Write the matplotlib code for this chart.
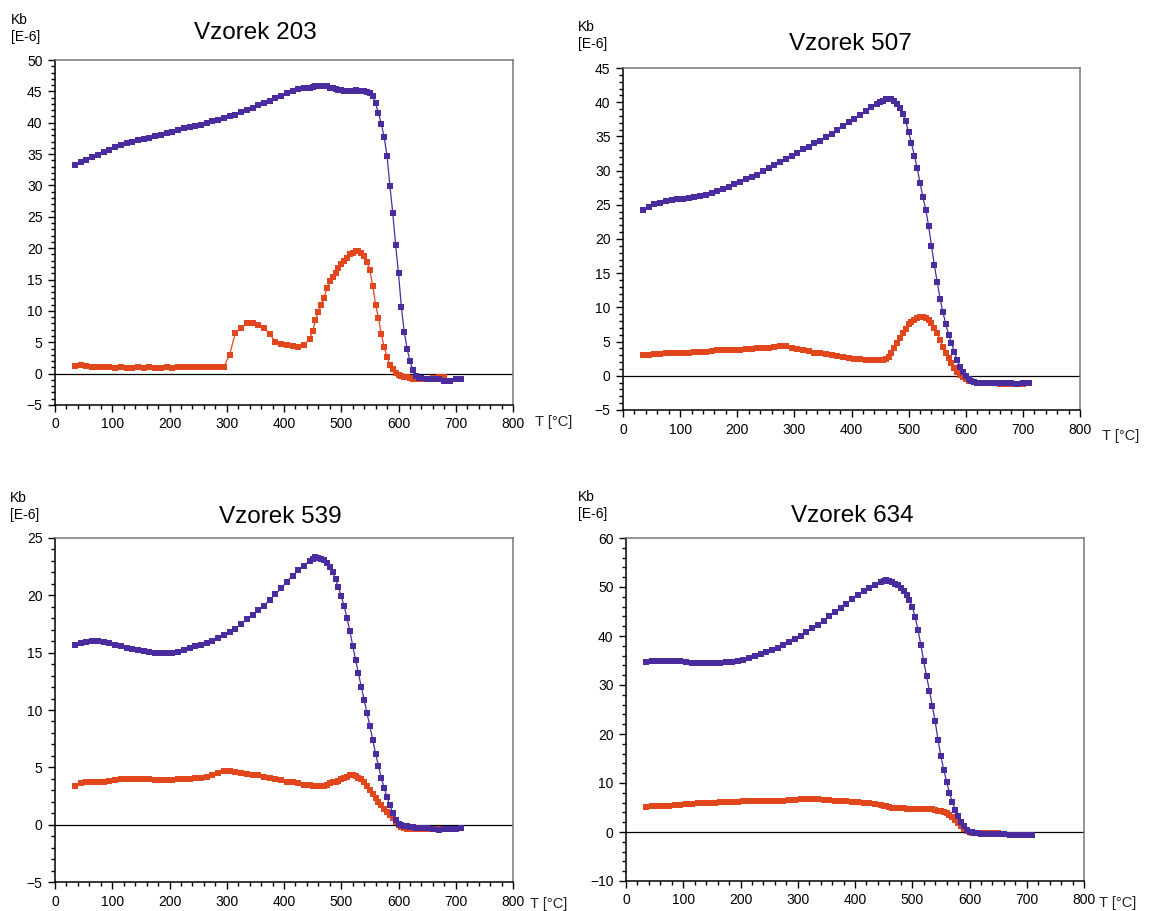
import matplotlib
matplotlib.use('Agg')
import matplotlib.pyplot as plt
from matplotlib.ticker import MultipleLocator

nan = float('nan')

# temperature grid [deg C]: coarse on the plateaus, finer where the curves drop
tempLow = [35, 45, 55, 65, 75, 85, 95, 105, 115, 125, 135, 145, 155, 165, 175, 185, 195, 205, 215, 225,
           235, 245, 255, 265, 275, 285, 295, 305, 315, 325, 335, 345, 355, 365, 375, 385, 395, 405, 415, 425,
           435, 445]
tempMid = [450, 455, 460, 465, 470, 475, 480, 485, 490, 495, 500, 505, 510, 515, 520, 525, 530, 535, 540, 545,
           550, 555, 560, 565, 570, 575, 580, 585, 590, 595, 600, 605, 610, 615, 620, 625, 630, 635, 640]
tempHigh = [650, 660, 670, 680, 690, 700, 710]
temps = tempLow + tempMid + tempHigh

# Vzorek 203
blue203 = [33.2, 33.7, 34.1, 34.5, 34.9, 35.3, 35.7, 36.1, 36.4, 36.7,
           36.9, 37.2, 37.4, 37.6, 37.9, 38.1, 38.4, 38.6, 38.8, 39.1,
           39.3, 39.5, 39.7, 40.0, 40.2, 40.5, 40.7, 41.0, 41.3, 41.7,
           42.0, 42.4, 42.8, 43.2, 43.5, 43.9, 44.3, 44.7, 45.1, 45.3,
           45.5, 45.6] + \
          [45.7, 45.8, 45.85, 45.9, 45.9, 45.8, 45.6, 45.5, 45.3, 45.2,
           45.2, 45.1, 45.1, 45.1, 45.1, 45.2, 45.1, 45.1, 45.0, 44.9,
           44.7, 44.2, 43.1, 41.5, 39.8, 37.7, 34.7, 29.9, 25.6, 20.5,
           16.0, 10.6, 6.7, 4.0, 2.0, 0.6, -0.4, -0.7, -0.7] + \
          [-0.8, -0.8, -0.9, -1.2, -1.1, -0.9, -0.9]
orange203 = [1.2, 1.3, 1.2, 1.1, 1.0, 1.0, 1.0, 0.9, 1.0, 0.9,
             0.9, 1.0, 0.9, 1.0, 0.9, 0.9, 1.0, 0.9, 1.0, 1.0,
             1.0, 1.1, 1.0, 1.0, 1.1, 1.0, 1.1, 3.0, 6.5, 7.3,
             8.0, 8.1, 7.8, 7.2, 6.3, 5.1, 4.8, 4.6, 4.4, 4.3,
             4.5, 5.6] + \
            [6.8, 8.5, 9.8, 11.0, 12.1, 13.6, 14.7, 15.4, 16.1, 16.8,
             17.5, 18.0, 18.5, 19.0, 19.3, 19.5, 19.6, 19.3, 18.7, 17.8,
             16.5, 14.0, 11.0, 8.9, 6.3, 4.2, 2.7, 1.4, 0.7, 0.1,
             -0.2, -0.4, -0.5, -0.6, -0.7, -0.8, -0.9, -0.9, -0.9] + \
            [-0.8, -0.7, -0.6, -0.5, nan, nan, nan]

# Vzorek 507
blue507 = [24.3, 24.7, 25.1, 25.3, 25.5, 25.7, 25.8, 25.9, 26.0, 26.1,
           26.3, 26.5, 26.7, 27.0, 27.3, 27.6, 28.0, 28.3, 28.7, 29.0,
           29.4, 29.9, 30.4, 30.8, 31.3, 31.7, 32.1, 32.6, 33.1, 33.5,
           34.0, 34.4, 34.9, 35.4, 35.9, 36.5, 37.1, 37.6, 38.2, 38.7,
           39.3, 39.8] + \
          [40.0, 40.2, 40.4, 40.4, 40.4, 40.2, 39.8, 39.1, 38.3, 37.2,
           35.6, 34.0, 32.2, 30.4, 28.2, 26.1, 24.3, 21.9, 19.0, 16.2,
           13.7, 11.3, 9.3, 7.6, 6.0, 4.8, 3.5, 2.3, 1.3, 0.5,
           -0.1, -0.5, -0.8, -0.9, -1.0, -1.0, -1.0, -1.0, -1.0] + \
          [-1.0, -1.0, -1.0, -1.1, -1.2, -1.1, -1.1]
orange507 = [3.0, 3.1, 3.2, 3.2, 3.3, 3.3, 3.4, 3.4, 3.4, 3.5,
             3.5, 3.5, 3.6, 3.7, 3.7, 3.8, 3.8, 3.8, 3.9, 3.9,
             4.0, 4.1, 4.1, 4.2, 4.3, 4.3, 4.1, 3.9, 3.7, 3.6,
             3.4, 3.3, 3.2, 3.0, 2.9, 2.8, 2.6, 2.5, 2.4, 2.3,
             2.3, 2.3] + \
            [2.3, 2.3, 2.5, 2.8, 3.3, 4.0, 4.8, 5.5, 6.2, 6.9,
             7.5, 7.9, 8.2, 8.4, 8.6, 8.6, 8.4, 8.1, 7.7, 7.0,
             6.3, 5.3, 4.2, 3.4, 2.6, 1.8, 1.1, 0.5, 0.1, -0.2,
             -0.5, -0.7, -0.8, -0.9, -1.0, -1.0, -1.1, -1.1, -1.1] + \
            [-1.1, -1.2, -1.2, -1.2, -1.2, -1.2, nan]

# Vzorek 539
blue539 = [15.7, 15.85, 15.95, 16.0, 16.0, 15.95, 15.85, 15.7, 15.55, 15.45,
           15.35, 15.25, 15.15, 15.05, 15.0, 14.95, 14.95, 15.0, 15.1, 15.2,
           15.4, 15.55, 15.7, 15.85, 16.05, 16.25, 16.5, 16.8, 17.1, 17.5,
           17.9, 18.3, 18.7, 19.1, 19.6, 20.1, 20.6, 21.2, 21.7, 22.2,
           22.6, 23.0] + \
          [23.2, 23.3, 23.25, 23.2, 23.05, 22.8, 22.5, 22.0, 21.4, 20.7,
           19.9, 19.1, 18.0, 16.9, 15.6, 14.4, 13.2, 12.0, 10.9, 9.7,
           8.6, 7.4, 6.2, 5.1, 4.1, 3.2, 2.4, 1.7, 1.0, 0.4,
           0.1, -0.05, -0.1, -0.15, -0.2, -0.2, -0.25, -0.25, -0.3] + \
          [-0.3, -0.35, -0.45, -0.4, -0.35, -0.35, -0.3]
orange539 = [3.4, 3.6, 3.7, 3.7, 3.7, 3.75, 3.8, 3.9, 4.0, 4.0,
             4.0, 4.0, 4.0, 3.95, 3.9, 3.9, 3.9, 3.9, 3.95, 4.0,
             4.0, 4.05, 4.1, 4.2, 4.3, 4.5, 4.7, 4.65, 4.55, 4.5,
             4.4, 4.35, 4.3, 4.2, 4.1, 4.0, 3.9, 3.75, 3.7, 3.6,
             3.5, 3.45] + \
            [3.4, 3.4, 3.4, 3.4, 3.4, 3.5, 3.6, 3.7, 3.75, 3.85,
             3.95, 4.1, 4.2, 4.3, 4.3, 4.25, 4.1, 3.95, 3.7, 3.4,
             3.0, 2.65, 2.3, 2.0, 1.75, 1.4, 1.1, 0.85, 0.55, 0.2,
             0.0, -0.2, -0.3, -0.35, -0.35, -0.35, -0.35, -0.35, -0.4] + \
            [-0.4, -0.4, -0.4, nan, nan, nan, nan]

# Vzorek 634
blue634 = [34.6, 34.8, 34.9, 35.0, 35.0, 34.9, 34.8, 34.6, 34.5, 34.4,
           34.4, 34.4, 34.4, 34.5, 34.6, 34.7, 34.9, 35.2, 35.5, 35.9,
           36.3, 36.7, 37.1, 37.6, 38.2, 38.8, 39.4, 40.1, 40.8, 41.6,
           42.3, 43.1, 44.0, 44.9, 45.8, 46.6, 47.5, 48.3, 49.1, 49.8,
           50.5, 51.1] + \
          [51.3, 51.35, 51.2, 51.0, 50.7, 50.4, 49.8, 49.1, 48.4, 47.3,
           46.0, 43.9, 41.3, 38.2, 34.9, 31.8, 28.8, 25.8, 22.6, 18.8,
           15.5, 12.7, 10.3, 8.0, 6.2, 4.5, 3.2, 2.0, 1.2, 0.5,
           0.1, -0.1, -0.25, -0.3, -0.35, -0.4, -0.4, -0.4, -0.45] + \
          [-0.5, -0.5, -0.6, -0.6, -0.55, -0.6, -0.7]
orange634 = [5.2, 5.25, 5.3, 5.35, 5.4, 5.5, 5.6, 5.7, 5.8, 5.85,
             5.9, 5.95, 6.0, 6.1, 6.15, 6.2, 6.2, 6.25, 6.3, 6.35,
             6.4, 6.4, 6.4, 6.4, 6.4, 6.5, 6.6, 6.7, 6.8, 6.75,
             6.7, 6.6, 6.5, 6.4, 6.35, 6.3, 6.2, 6.1, 6.0, 5.95,
             5.8, 5.6] + \
            [5.4, 5.25, 5.1, 5.0, 4.95, 4.9, 4.85, 4.8, 4.75, 4.7,
             4.7, 4.7, 4.7, 4.7, 4.7, 4.7, 4.7, 4.6, 4.5, 4.35,
             4.2, 4.0, 3.8, 3.5, 3.0, 2.4, 1.8, 1.2, 0.6, 0.15,
             -0.1, -0.2, -0.3, -0.3, -0.3, -0.3, -0.3, -0.3, -0.3] + \
            [-0.3, nan, nan, nan, nan, nan, nan]

sampleNames = ['Vzorek 203', 'Vzorek 507', 'Vzorek 539', 'Vzorek 634']

W, H = 1149, 911
BLUE = '#4b2c9f'
ORANGE = '#e2461c'


def px(x, y):
    # pixel position (from top left) -> figure fraction
    return x / W, 1 - y / H


def drawPanel(fig, box, name, blue, orange, ylim, major, minor, titlePos, kbPos, tPos):
    left, top, right, bottom = box
    ax = fig.add_axes([left / W, 1 - bottom / H, (right - left) / W, (bottom - top) / H])

    ax.plot(temps, orange, color=ORANGE, marker='s', ms=4.3, mew=0, lw=0.9, zorder=3)
    ax.plot(temps, blue, color=BLUE, marker='s', ms=4.3, mew=0, lw=0.9, zorder=4)
    ax.axhline(0, color='black', lw=0.9, zorder=2)

    ax.set_xlim(0, 800)
    ax.set_ylim(*ylim)
    ax.xaxis.set_major_locator(MultipleLocator(100))
    ax.xaxis.set_minor_locator(MultipleLocator(20))
    ax.yaxis.set_major_locator(MultipleLocator(major))
    ax.yaxis.set_minor_locator(MultipleLocator(minor))
    ax.tick_params(which='both', direction='out', top=False, right=False, width=1, labelsize=10, pad=4)
    ax.tick_params(which='major', length=5)
    ax.tick_params(which='minor', length=3)

    for side in ['left', 'bottom']:
        ax.spines[side].set_color('black')
        ax.spines[side].set_linewidth(1.1)
    for side in ['top', 'right']:
        ax.spines[side].set_color('#777777')
        ax.spines[side].set_linewidth(1.1)

    fig.text(*px(*titlePos), name, fontsize=17.5, ha='center', va='center')
    fig.text(*px(kbPos[0], kbPos[1]), 'Kb', fontsize=10, ha='left', va='center')
    fig.text(*px(kbPos[0], kbPos[1] + 17), '[E-6]', fontsize=10, ha='left', va='center')
    fig.text(*px(*tPos), 'T [°C]', fontsize=10.5, ha='left', va='center', color='#222222')
    return ax


def main():
    plt.rcParams['font.family'] = ['Liberation Sans', 'DejaVu Sans']
    fig = plt.figure(figsize=(W / 100, H / 100), dpi=100)

    drawPanel(fig, (55, 60, 513, 405), sampleNames[0], blue203, orange203, (-5, 50), 5, 1,
              (255, 33), (11, 20), (535, 422))
    drawPanel(fig, (623, 68, 1080, 410), sampleNames[1], blue507, orange507, (-5, 45), 5, 1,
              (850, 44), (578, 27), (1102, 436))
    drawPanel(fig, (55, 538, 513, 882), sampleNames[2], blue539, orange539, (-5, 25), 5, 1,
              (280, 517), (10, 498), (530, 904))
    drawPanel(fig, (626, 538, 1084, 881), sampleNames[3], blue634, orange634, (-10, 60), 10, 2,
              (852, 516), (578, 497), (1099, 903))

    fig.savefig('out.png', dpi=100, facecolor='white')


if __name__ == "__main__":
    main()
